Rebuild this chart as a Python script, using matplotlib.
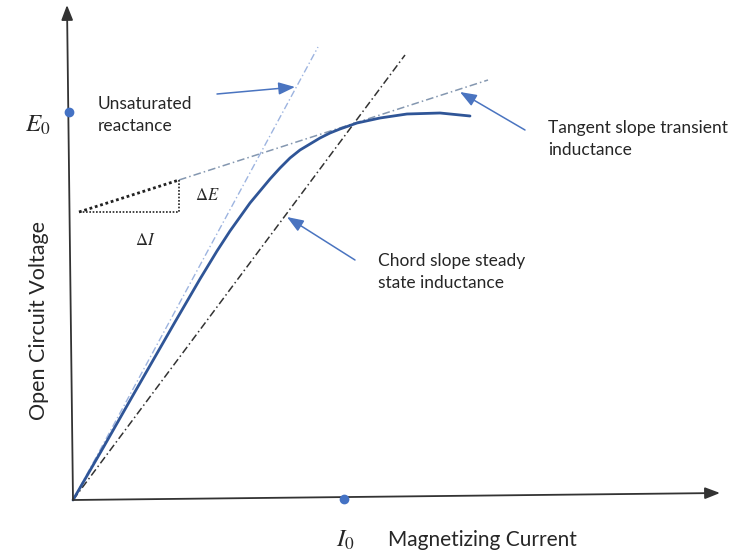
import matplotlib
matplotlib.use('Agg')
import matplotlib.pyplot as plt

plt.rcParams['font.family'] = ['Lato', 'DejaVu Sans']
plt.rcParams['mathtext.fontset'] = 'stix'

# Open circuit characteristic (arbitrary units)
current = [0, 30, 59, 102, 127, 144, 157, 167, 177, 187, 197, 207, 217, 227, 237,
           247, 257, 267, 284, 307, 334, 367, 397]
voltage = [0, 52, 103, 178, 221, 249, 269, 283, 297, 309, 321, 332, 342, 350, 356,
           362, 367, 371, 377, 382, 386, 387, 384]

# Straight lines drawn over the curve: (start, end)
unsaturated_line = [(0, 0), (245, 453)]
chord_line = [(0, 0), (332, 445)]
tangent_line = [(106, 320), (415, 420)]
delta_triangle = [(6, 288), (106, 320), (106, 288), (6, 288)]

E0 = 388
I0 = 271

# Axes ends
y_axis = [(0, 0), (-6, 495)]
x_axis = [(0, 0), (647, 7)]

# Annotations: (text, text position, arrow start, arrow tip)
notes = [
    ('Unsaturated\nreactance', (25, 385), (144, 406), (222, 413)),
    ('Tangent slope transient\ninductance', (475, 361), (452, 370), (387, 408)),
    ('Chord slope steady\nstate inductance', (305, 228), (282, 240), (214, 283)),
]

text_color = '#262626'
arrow_color = '#4a74c0'

fig = plt.figure(figsize=(7.29, 5.54), dpi=100)
ax = fig.add_axes([0, 0, 1, 1])
ax.set_xlim(-73, 656)
ax.set_ylim(-54, 500)
ax.axis('off')

# Axes with arrow heads
for (x0, y0), (x1, y1) in [y_axis, x_axis]:
    ax.annotate('', xy=(x1, y1), xytext=(x0, y0),
                arrowprops=dict(arrowstyle='-|>,head_length=0.9,head_width=0.35',
                                color='#333333', lw=1.3, shrinkA=0, shrinkB=0))

# Construction lines
ax.plot(*zip(*unsaturated_line), color='#9db4e0', lw=1.0, dashes=(5, 2, 1, 2))
ax.plot(*zip(*chord_line), color='#333333', lw=1.1, dashes=(5, 2, 1, 2))
ax.plot(*zip(*tangent_line), color='#8497b0', lw=1.1, dashes=(5, 2, 1, 2))
ax.plot(*zip(*delta_triangle[:2]), color='#222222', lw=2, linestyle=(0, (1, 1)))
ax.plot(*zip(*delta_triangle[1:]), color='#222222', lw=1.2, linestyle=(0, (1, 1)))

# Magnetization curve
ax.plot(current, voltage, color='#2f5597', lw=2, solid_capstyle='round',
        solid_joinstyle='round')

# E0 and I0 markers
ax.plot(-4, E0, 'o', color='#4472c4', ms=6, zorder=5)
ax.plot(I0, 1, 'o', color='#4472c4', ms=6, zorder=5)
ax.text(-35, E0 - 13, '$E_0$', fontsize=18, ha='center', va='center', color=text_color)
ax.text(I0 + 1, -40, '$I_0$', fontsize=18, ha='center', va='center', color=text_color)

ax.text(122, 305, r'$\Delta E$', fontsize=12, ha='left', va='center', color=text_color)
ax.text(72, 260, r'$\Delta I$', fontsize=12, ha='center', va='center', color=text_color)

# Axis titles
ax.text(315, -40, 'Magnetizing Current', fontsize=15, ha='left', va='center', color=text_color)
ax.text(-34, 180, 'Open Circuit Voltage', fontsize=15.5, ha='center', va='center',
        rotation=90, color=text_color)

# Labels with pointer arrows
for label, (tx, ty), start, tip in notes:
    ax.text(tx, ty, label, fontsize=12.5, ha='left', va='center', color=text_color,
            linespacing=1.45)
    ax.annotate('', xy=tip, xytext=start,
                arrowprops=dict(arrowstyle='-|>,head_length=1.0,head_width=0.38',
                                color=arrow_color, lw=1.1, shrinkA=0, shrinkB=0))

fig.savefig('out.png', dpi=100)
